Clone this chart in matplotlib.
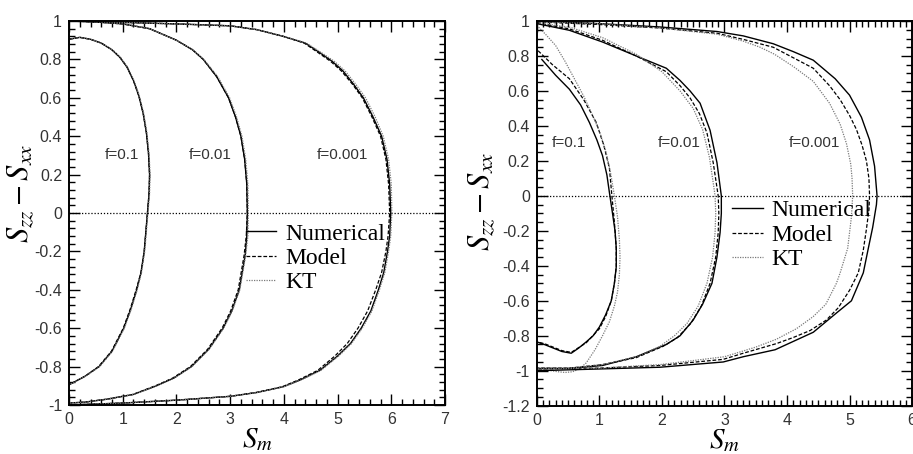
import numpy as np
import matplotlib.pyplot as plt
from matplotlib.ticker import MultipleLocator, FuncFormatter

plt.rcParams["mathtext.fontset"] = "stix"

# ---- left panel (every f: Numerical / Model / KT share one y grid) ----
L1_y = [0.905, 0.915, 0.905, 0.885, 0.85, 0.81, 0.76, 0.69, 0.61, 0.52, 0.42, 0.31, 0.20, 0.10, 0.0,
        -0.2, -0.31, -0.40, -0.50, -0.60, -0.72, -0.80, -0.85, -0.88, -0.895]
L1_num = [0.0, 0.2, 0.4, 0.6, 0.8, 0.95, 1.08, 1.2, 1.3, 1.38, 1.44, 1.48, 1.50, 1.49, 1.46,
          1.40, 1.34, 1.26, 1.15, 1.02, 0.80, 0.56, 0.30, 0.10, 0.0]
L1_mod = [0.0, 0.2, 0.4, 0.6, 0.8, 0.95, 1.08, 1.2, 1.3, 1.38, 1.44, 1.48, 1.50, 1.49, 1.46,
          1.40, 1.34, 1.25, 1.14, 1.01, 0.79, 0.55, 0.30, 0.10, 0.0]
L1_kt = [0.0, 0.2, 0.4, 0.61, 0.81, 0.96, 1.09, 1.21, 1.31, 1.39, 1.45, 1.49, 1.51, 1.50, 1.47,
         1.41, 1.35, 1.27, 1.16, 1.03, 0.81, 0.57, 0.31, 0.11, 0.0]

L2_y = [1.0, 0.995, 0.985, 0.96, 0.90, 0.85, 0.80, 0.71, 0.60, 0.50, 0.40, 0.28, 0.15, 0.0,
        -0.12, -0.22, -0.40, -0.51, -0.60, -0.71, -0.80, -0.86, -0.90, -0.945, -0.97, -0.985, -0.99]
L2_num = [0, 0.5, 1.0, 1.5, 2.0, 2.3, 2.5, 2.75, 2.97, 3.1, 3.2, 3.27, 3.31, 3.32,
          3.31, 3.28, 3.17, 3.03, 2.87, 2.6, 2.28, 1.95, 1.63, 1.2, 0.7, 0.3, 0]
L2_mod = [0, 0.5, 1.0, 1.5, 2.0, 2.3, 2.5, 2.75, 2.97, 3.1, 3.2, 3.27, 3.31, 3.32,
          3.30, 3.26, 3.15, 3.01, 2.85, 2.58, 2.26, 1.93, 1.61, 1.19, 0.7, 0.3, 0]
L2_kt = [0, 0.5, 1.0, 1.5, 2.0, 2.31, 2.51, 2.77, 2.99, 3.12, 3.22, 3.29, 3.33, 3.34,
         3.33, 3.29, 3.18, 3.04, 2.88, 2.61, 2.29, 1.96, 1.64, 1.21, 0.71, 0.3, 0]

L3_y = [1.0, 0.993, 0.985, 0.975, 0.955, 0.92, 0.885, 0.835, 0.79, 0.74, 0.67, 0.60, 0.50, 0.40,
        0.28, 0.15, 0.0, -0.12, -0.20, -0.31, -0.40, -0.51, -0.60, -0.68, -0.745, -0.82, -0.87,
        -0.905, -0.935, -0.955, -0.975, -0.99, -1.0]
L3_num = [0, 1.0, 2.0, 3.0, 3.5, 3.99, 4.4, 4.67, 4.9, 5.1, 5.3, 5.48, 5.66, 5.82,
          5.92, 5.97, 5.99, 5.97, 5.93, 5.86, 5.76, 5.62, 5.44, 5.24, 5.0, 4.67, 4.3,
          3.99, 3.5, 3.0, 2.0, 1.0, 0]
L3_mod = [0, 1.0, 2.0, 3.0, 3.5, 3.99, 4.38, 4.64, 4.87, 5.07, 5.28, 5.46, 5.64, 5.80,
          5.90, 5.95, 5.97, 5.94, 5.90, 5.82, 5.71, 5.56, 5.38, 5.18, 4.95, 4.63, 4.27,
          3.97, 3.48, 3.0, 2.0, 1.0, 0]
L3_kt = [0, 1.0, 2.0, 3.0, 3.5, 4.0, 4.42, 4.70, 4.94, 5.14, 5.34, 5.52, 5.70, 5.85,
         5.95, 6.0, 6.01, 5.99, 5.95, 5.88, 5.78, 5.64, 5.46, 5.26, 5.02, 4.69, 4.32,
         4.0, 3.5, 3.0, 2.0, 1.0, 0]

# ---- right panel ----
R1_num_x = [0.08, 0.3, 0.52, 0.70, 0.84, 0.96, 1.05, 1.12, 1.16, 1.21, 1.25, 1.27, 1.27, 1.24,
            1.19, 1.10, 1.0, 0.9, 0.79, 0.67, 0.55, 0.40, 0.26, 0.12, 0.0]
R1_num_y = [0.78, 0.69, 0.61, 0.52, 0.42, 0.32, 0.23, 0.12, 0.02, -0.1, -0.2, -0.3, -0.405, -0.5,
            -0.6, -0.68, -0.75, -0.80, -0.835, -0.87, -0.90, -0.89, -0.87, -0.85, -0.835]
R1_mod_x = [0.02, 0.25, 0.52, 0.75, 0.95, 1.07, 1.16, 1.20, 1.24, 1.27, 1.27, 1.24,
            1.19, 1.10, 1.0, 0.79, 0.55, 0.40, 0.26, 0.12, 0.0]
R1_mod_y = [0.83, 0.75, 0.67, 0.55, 0.42, 0.29, 0.16, 0.0, -0.15, -0.3, -0.405, -0.5,
            -0.6, -0.69, -0.76, -0.84, -0.895, -0.885, -0.865, -0.845, -0.835]
R1_kt_x = [0, 0.15, 0.3, 0.45, 0.6, 0.75, 0.88, 1.0, 1.1, 1.18, 1.24, 1.29, 1.32, 1.33, 1.32,
           1.29, 1.24, 1.16, 1.05, 0.93, 0.79, 0.68, 0.57, 0.45, 0.32, 0.15, 0]
R1_kt_y = [0.975, 0.92, 0.86, 0.77, 0.67, 0.57, 0.47, 0.37, 0.26, 0.13, 0.0, -0.12, -0.25, -0.35, -0.45,
           -0.55, -0.63, -0.72, -0.80, -0.88, -0.955, -0.99, -1.006, -1.01, -1.005, -0.995, -0.99]

R2_num_x = [0, 0.52, 1.05, 1.59, 2.07, 2.29, 2.45, 2.61, 2.77, 2.88, 2.95, 2.95, 2.93, 2.88,
            2.8, 2.65, 2.5, 2.29, 2.07, 1.59, 1.05, 0.52, 0]
R2_num_y = [0.985, 0.947, 0.88, 0.80, 0.73, 0.66, 0.60, 0.53, 0.375, 0.19, 0.0, -0.1, -0.21, -0.35,
            -0.5, -0.62, -0.71, -0.80, -0.85, -0.92, -0.97, -0.987, -0.987]
R2_mod_x = [0, 0.52, 1.05, 1.59, 2.07, 2.29, 2.45, 2.6, 2.72, 2.82, 2.90, 2.91, 2.90, 2.86,
            2.77, 2.63, 2.46, 2.25, 2.02, 1.59, 1.05, 0.52, 0]
R2_mod_y = [0.99, 0.955, 0.89, 0.80, 0.71, 0.63, 0.56, 0.47, 0.36, 0.19, 0.0, -0.1, -0.21, -0.35,
            -0.5, -0.63, -0.73, -0.81, -0.86, -0.925, -0.965, -0.985, -0.985]
R2_kt_x = [0, 0.52, 1.05, 1.59, 2.0, 2.29, 2.5, 2.65, 2.76, 2.83, 2.85, 2.86, 2.85, 2.81,
           2.72, 2.58, 2.40, 2.2, 1.97, 1.59, 1.05, 0.52, 0]
R2_kt_y = [0.99, 0.965, 0.905, 0.81, 0.71, 0.60, 0.50, 0.38, 0.22, 0.05, 0.0, -0.1, -0.21, -0.35,
           -0.5, -0.63, -0.73, -0.80, -0.86, -0.92, -0.965, -0.985, -0.985]

R3_num_x = [0, 1.0, 1.97, 2.88, 3.3, 3.78, 4.1, 4.42, 4.77, 5.0, 5.19, 5.32, 5.40, 5.44, 5.43,
            5.37, 5.30, 5.22, 5.03, 4.79, 4.42, 3.81, 3.3, 2.98, 1.97, 1.0, 0]
R3_num_y = [1.0, 0.985, 0.966, 0.94, 0.915, 0.87, 0.825, 0.776, 0.67, 0.576, 0.45, 0.32, 0.17, 0.0, -0.05,
            -0.18, -0.30, -0.44, -0.6, -0.67, -0.78, -0.88, -0.92, -0.95, -0.98, -0.99, -1.0]
R3_mod_x = [0, 1.0, 1.97, 2.88, 3.3, 3.78, 4.1, 4.42, 4.68, 4.85, 5.0, 5.11, 5.2, 5.27, 5.31, 5.32,
            5.31, 5.27, 5.22, 5.14, 5.0, 4.82, 4.63, 4.37, 4.1, 3.83, 3.3, 2.98, 1.97, 1.0, 0]
R3_mod_y = [0.995, 0.98, 0.96, 0.93, 0.895, 0.85, 0.79, 0.73, 0.63, 0.55, 0.46, 0.38, 0.29, 0.20, 0.10, 0.0,
            -0.08, -0.19, -0.31, -0.44, -0.54, -0.64, -0.71, -0.77, -0.81, -0.845, -0.90, -0.935, -0.97,
            -0.985, -0.99]
R3_kt_x = [0, 1.0, 1.97, 2.88, 3.3, 3.57, 3.8, 4.1, 4.42, 4.68, 4.85, 4.95, 5.02, 5.04, 5.05,
           5.03, 4.97, 4.85, 4.79, 4.62, 4.42, 4.15, 3.83, 3.5, 3.0, 1.97, 1.0, 0]
R3_kt_y = [0.995, 0.985, 0.96, 0.925, 0.885, 0.85, 0.81, 0.74, 0.655, 0.53, 0.41, 0.30, 0.18, 0.10, 0.0,
           -0.12, -0.30, -0.44, -0.50, -0.62, -0.69, -0.76, -0.82, -0.865, -0.92, -0.965, -0.985, -0.99]

series = ["Numerical", "Model", "KT"]
left_f = [("f=0.1", 0.98), ("f=0.01", 2.63), ("f=0.001", 5.09)]
right_f = [("f=0.1", 0.52), ("f=0.01", 2.27), ("f=0.001", 4.44)]

styles = [dict(color="black", lw=1.0, ls="-"),
          dict(color="black", lw=0.9, ls=(0, (3, 1.5))),
          dict(color="#7a7a7a", lw=0.9, ls=(0, (1, 1)))]

tick_font = ["Liberation Sans Narrow", "Liberation Sans", "DejaVu Sans"]
fmt = FuncFormatter(lambda v, p: "{:g}".format(round(v, 2)))

fig = plt.figure(figsize=(9.13, 4.54), dpi=100)
axL = fig.add_axes([0.0756, 0.108, 0.4118, 0.8457])
axR = fig.add_axes([0.588, 0.1064, 0.411, 0.8473])

left_curves = [(L1_num, L1_y), (L1_mod, L1_y), (L1_kt, L1_y),
               (L2_num, L2_y), (L2_mod, L2_y), (L2_kt, L2_y),
               (L3_num, L3_y), (L3_mod, L3_y), (L3_kt, L3_y)]
right_curves = [(R1_num_x, R1_num_y), (R1_mod_x, R1_mod_y), (R1_kt_x, R1_kt_y),
                (R2_num_x, R2_num_y), (R2_mod_x, R2_mod_y), (R2_kt_x, R2_kt_y),
                (R3_num_x, R3_num_y), (R3_mod_x, R3_mod_y), (R3_kt_x, R3_kt_y)]


def draw(ax, curves, flabels, xlim, ylim, xminor, yminor, leg_anchor, ylab_pos):
    ax.axhline(0, color="black", lw=0.9, ls=(0, (1, 1.5)))
    handles = []
    for i, (x, y) in enumerate(curves):
        h, = ax.plot(x, y, **styles[i % 3])
        if i < 3:
            handles.append(h)
    for txt, xp in flabels:
        ax.text(xp, 0.30, txt, ha="center", va="center", fontsize=11,
                color="#333333", family=tick_font)
    ax.set_xlim(*xlim)
    ax.set_ylim(*ylim)
    ax.xaxis.set_major_locator(MultipleLocator(1))
    ax.yaxis.set_major_locator(MultipleLocator(0.2))
    ax.xaxis.set_minor_locator(MultipleLocator(xminor))
    ax.yaxis.set_minor_locator(MultipleLocator(yminor))
    ax.xaxis.set_major_formatter(fmt)
    ax.yaxis.set_major_formatter(fmt)
    ax.tick_params(which="both", direction="in", top=True, right=True, width=1.0,
                   labelsize=11.5, labelcolor="#333333")
    ax.tick_params(which="major", length=8, pad=5)
    ax.tick_params(which="minor", length=4)
    for lab in ax.get_xticklabels() + ax.get_yticklabels():
        lab.set_family(tick_font)
    for s in ax.spines.values():
        s.set_linewidth(1.4)
    ax.set_xlabel(r"$S_m$", fontsize=21, labelpad=-1)
    ax.set_ylabel(r"$S_{zz} - S_{xx}$", fontsize=22)
    ax.yaxis.set_label_coords(*ylab_pos)
    ax.legend(handles, series, loc="upper left", bbox_to_anchor=leg_anchor, frameon=False,
              prop=dict(family="Liberation Serif", size=17), handlelength=1.3,
              handletextpad=0.37, labelspacing=0.12, borderpad=0, borderaxespad=0)


draw(axL, left_curves, left_f, (0, 7), (-1, 1), 0.2, 0.04, (0.47, 0.474), (-0.088, 0.55))
draw(axR, right_curves, right_f, (0, 6), (-1.2, 1), 0.1, 0.05, (0.52, 0.535), (-0.105, 0.53))

fig.savefig("out.png", dpi=100)
